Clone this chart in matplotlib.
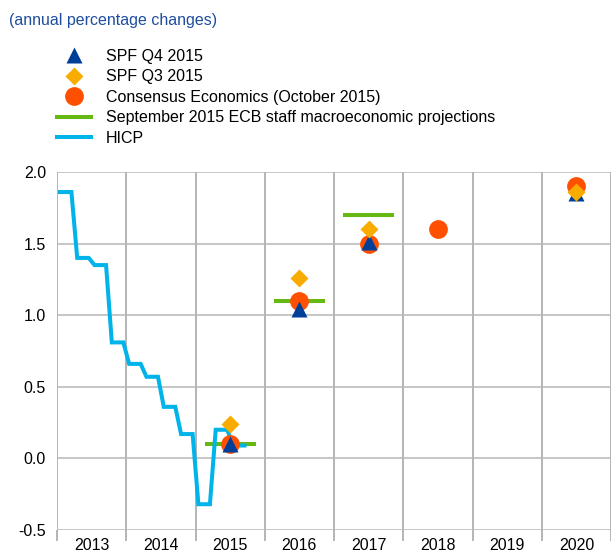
import numpy as np
import matplotlib.pyplot as plt
from matplotlib.lines import Line2D

plt.rcParams['font.family'] = ['Liberation Sans', 'DejaVu Sans']

# HICP, monthly (Jan 2013 - Sep 2015), quarterly averages held for each month
hicp = [1.86, 1.86, 1.86, 1.40, 1.40, 1.40, 1.35, 1.35, 1.35,
        0.81, 0.81, 0.81, 0.66, 0.66, 0.66, 0.57, 0.57, 0.57,
        0.36, 0.36, 0.36, 0.17, 0.17, 0.17, -0.32, -0.32, -0.32,
        0.20, 0.20, 0.20, 0.09, 0.09, 0.09]

years = [2013, 2014, 2015, 2016, 2017, 2018, 2019, 2020]

spf_q4_years = [2015, 2016, 2017, 2020]
spf_q4 = [0.10, 1.04, 1.51, 1.85]

spf_q3_years = [2015, 2016, 2017, 2020]
spf_q3 = [0.24, 1.26, 1.60, 1.86]

ce_years = [2015, 2016, 2017, 2018, 2020]
ce = [0.10, 1.10, 1.50, 1.60, 1.90]

ecb_years = [2015, 2016, 2017]
ecb = [0.10, 1.10, 1.70]

c_tri = '#003f98'
c_dia = '#f9ac00'
c_circ = '#ff4f00'
c_ecb = '#66b812'
c_hicp = '#00b4ea'

fs = 11.5

fig = plt.figure(figsize=(6.11, 5.56), dpi=100)
ax = fig.add_axes([57 / 611, 1 - 530 / 556, 554 / 611, 358 / 556])

# monthly x positions
t = 2013 + (np.arange(len(hicp)) + 0.5) / 12
ax.plot(t, hicp, color=c_hicp, lw=2.9, zorder=3, solid_joinstyle='miter')

for y, v in zip(ecb_years, ecb):
    ax.plot([y + 0.13, y + 0.87], [v, v], color=c_ecb, lw=2.9, zorder=2,
            solid_capstyle='butt')

mid = lambda ys: [y + 0.5 for y in ys]
ax.plot(mid(ce_years), ce, 'o', color=c_circ, ms=13.5, mec='none', zorder=4)
ax.plot(mid(spf_q4_years), spf_q4, '^', color=c_tri, ms=12, mec='none', zorder=5)
ax.plot(mid(spf_q3_years), spf_q3, 'D', color=c_dia, ms=9.3, mec='none', zorder=6)

ax.set_xlim(2013, 2021)
ax.set_ylim(-0.5, 2.0)
ax.set_yticks([-0.5, 0.0, 0.5, 1.0, 1.5, 2.0])
ax.set_yticklabels(['-0.5', '0.0', '0.5', '1.0', '1.5', '2.0'])
ax.set_xticks(years + [2021])
ax.set_xticklabels([])
ax.set_xticks(mid(years), minor=True)
ax.set_xticklabels([str(y) for y in years], minor=True)

ax.tick_params(axis='y', length=0, pad=8, labelsize=fs)
ax.tick_params(axis='x', which='major', length=8, width=1.1, color='#a0a0a0',
               direction='out')
ax.tick_params(axis='x', which='minor', length=0, pad=6, labelsize=fs)

ax.grid(axis='y', color='#b6b6b6', lw=1.1)
ax.grid(axis='x', which='major', color='#a0a0a0', lw=1.1)
ax.set_axisbelow(True)
for s in ax.spines.values():
    s.set_visible(False)

fig.text(9 / 611, 1 - 20 / 556, '(annual percentage changes)', color='#1f4e9e',
         fontsize=fs, va='center', ha='left')

handles = [
    Line2D([], [], marker='^', color=c_tri, ls='none', ms=12, mec='none'),
    Line2D([], [], marker='D', color=c_dia, ls='none', ms=9.3, mec='none'),
    Line2D([], [], marker='o', color=c_circ, ls='none', ms=13.5, mec='none'),
    Line2D([], [], color=c_ecb, lw=2.9),
    Line2D([], [], color=c_hicp, lw=2.9),
]
labels = ['SPF Q4 2015', 'SPF Q3 2015', 'Consensus Economics (October 2015)',
          'September 2015 ECB staff macroeconomic projections', 'HICP']
fig.legend(handles, labels, loc='upper left',
           bbox_to_anchor=(57 / 611, 1 - 49 / 556), frameon=False,
           fontsize=fs, handlelength=2.1, handletextpad=0.95,
           labelspacing=0.34, borderpad=0, borderaxespad=0)

fig.savefig('out.png', dpi=100)
